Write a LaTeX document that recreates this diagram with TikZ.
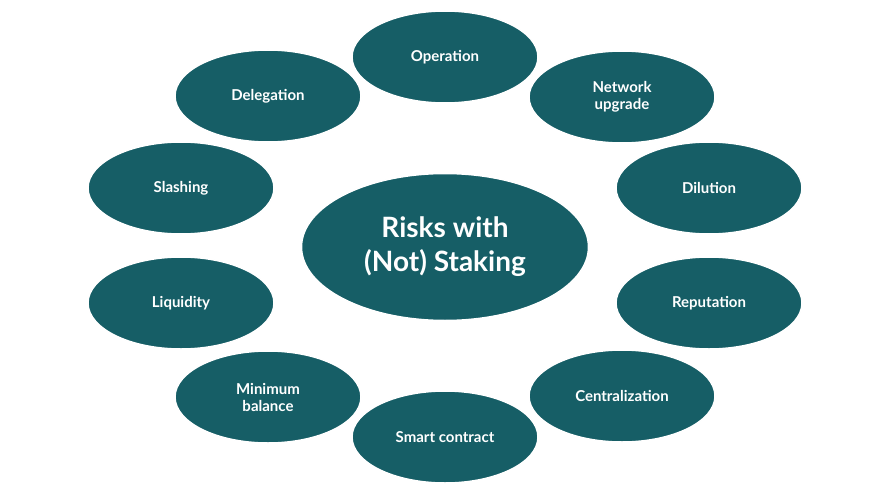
\documentclass[tikz,border=0pt]{standalone}
\usepackage{fontspec}
\setmainfont{Lato}
\usetikzlibrary{shapes.geometric}
\definecolor{teal}{HTML}{165E66}
\begin{document}
\begin{tikzpicture}[x=1pt,y=-1pt,
  blob/.style={ellipse,fill=teal,draw=white,line width=1.5pt,minimum width=186pt,minimum height=92pt,inner sep=0pt,text=white,font=\fontsize{15}{17}\selectfont\bfseries,align=center},
  hub/.style={blob,minimum width=287pt,minimum height=147pt,font=\fontsize{28}{34}\selectfont\bfseries}]
\useasboundingbox[fill=white] (0,0) rectangle (888,500);
\node[hub] (c) at (445,247) {Risks with\\(Not) Staking};
\node[blob] (op) at (445,57) {Operation};
\node[blob] (nu) at (622,97) {Network\\upgrade};
\node[blob] (di) at (709,188) {Dilution};
\node[blob] (re) at (709,303) {Reputation};
\node[blob] (ce) at (622,396) {Centralization};
\node[blob] (sc) at (445,437) {Smart contract};
\node[blob] (mb) at (268,397) {Minimum\\balance};
\node[blob] (li) at (181,303) {Liquidity};
\node[blob] (sl) at (181,188) {Slashing};
\node[blob] (de) at (268,96) {Delegation};
\end{tikzpicture}
\end{document}
